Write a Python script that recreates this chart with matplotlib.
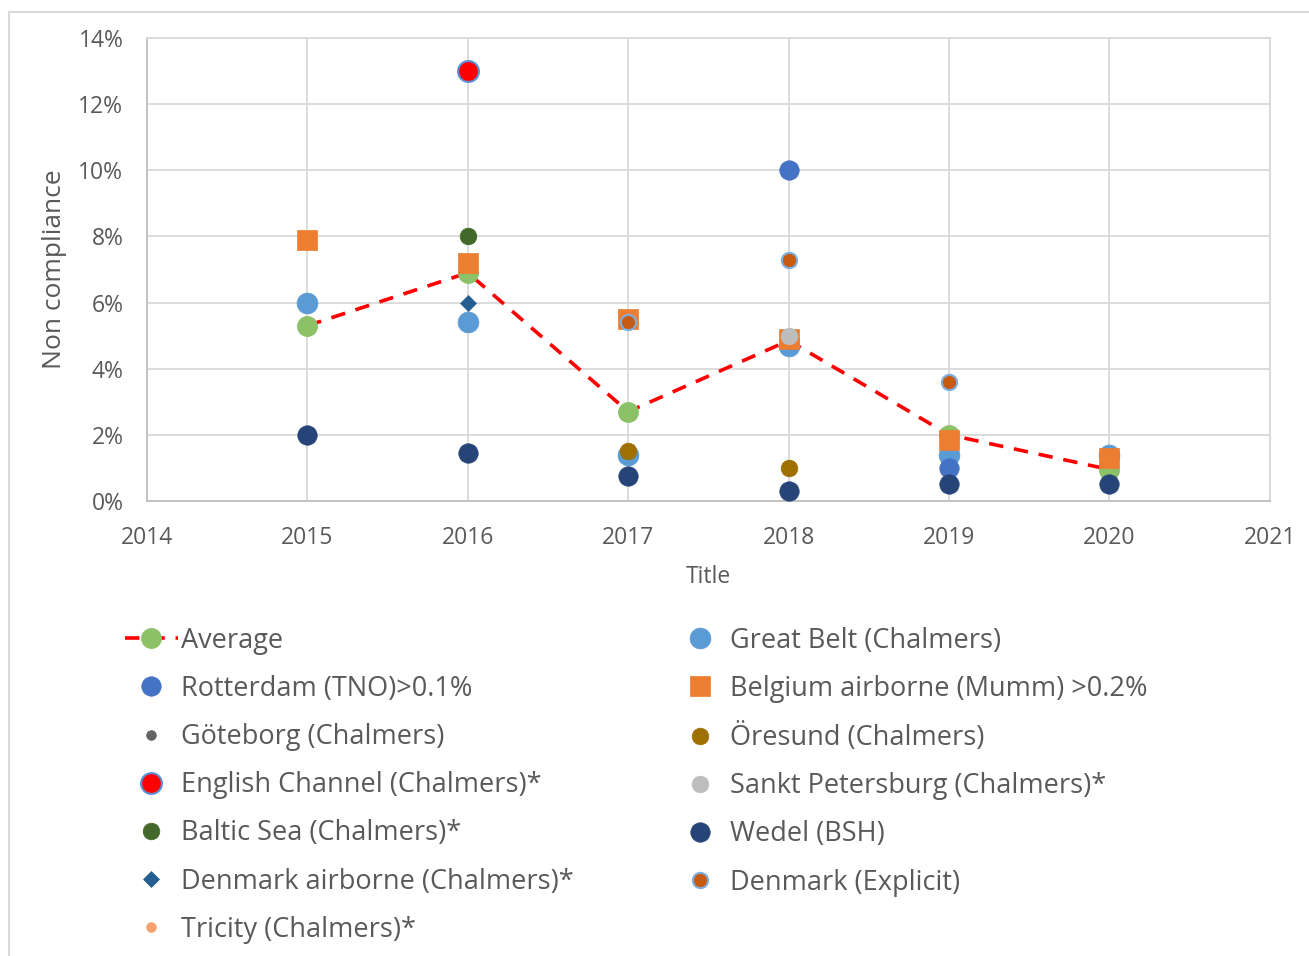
import matplotlib
matplotlib.use('Agg')
import matplotlib.pyplot as plt
from matplotlib.lines import Line2D
from matplotlib.ticker import PercentFormatter

plt.rcParams['font.family'] = ['Open Sans', 'DejaVu Sans']

# average line
avg_years = [2015, 2016, 2017, 2018, 2019, 2020]
avg_values = [5.3, 6.9, 2.7, 4.85, 2.0, 0.95]

# individual measurement series (years, values in %)
great_belt_years = [2015, 2016, 2017, 2018, 2019, 2020]
great_belt = [6.0, 5.4, 1.4, 4.7, 1.4, 1.4]
rotterdam_years = [2018, 2019]
rotterdam = [10.0, 1.0]
belgium_years = [2015, 2016, 2017, 2018, 2019, 2020]
belgium = [7.9, 7.2, 5.5, 4.9, 1.85, 1.3]
goteborg_years = []
goteborg = []
oresund_years = [2017, 2018]
oresund = [1.5, 1.0]
english_years = [2016]
english = [13.0]
sankt_years = [2018]
sankt = [5.0]
baltic_years = [2016]
baltic = [8.0]
wedel_years = [2015, 2016, 2017, 2018, 2019, 2020]
wedel = [2.0, 1.45, 0.75, 0.3, 0.5, 0.5]
dk_air_years = [2016]
dk_air = [6.0]
dk_explicit_years = [2017, 2018, 2019]
dk_explicit = [5.4, 7.3, 3.6]
tricity_years = []
tricity = []

text_col = '#595959'

fig = plt.figure(figsize=(13.09, 9.56), dpi=100)
ax = fig.add_axes([0.1123, 0.476, 0.8578, 0.4843])

# series: label, x, y, marker, size, face, edge
series = [
    ('Great Belt (Chalmers)', great_belt_years, great_belt, 'o', 15, '#5B9BD5', '#5B9BD5'),
    ('Rotterdam (TNO)>0.1%', rotterdam_years, rotterdam, 'o', 14, '#4472C4', '#4472C4'),
    ('Belgium airborne (Mumm) >0.2%', belgium_years, belgium, 's', 14, '#ED7D31', '#ED7D31'),
    ('Göteborg (Chalmers)', goteborg_years, goteborg, 'o', 7, '#636363', '#636363'),
    ('Öresund (Chalmers)', oresund_years, oresund, 'o', 12, '#9E7000', '#9E7000'),
    ('English Channel (Chalmers)*', english_years, english, 'o', 15, '#FF0000', '#5B8ED5'),
    ('Sankt Petersburg (Chalmers)*', sankt_years, sankt, 'o', 12, '#BDBDBD', '#BDBDBD'),
    ('Baltic Sea (Chalmers)*', baltic_years, baltic, 'o', 12, '#43682B', '#43682B'),
    ('Wedel (BSH)', wedel_years, wedel, 'o', 14, '#264478', '#264478'),
    ('Denmark airborne (Chalmers)*', dk_air_years, dk_air, 'D', 8, '#255E91', '#255E91'),
    ('Denmark (Explicit)', dk_explicit_years, dk_explicit, 'o', 11, '#C55A11', '#7FAEDD'),
    ('Tricity (Chalmers)*', tricity_years, tricity, 'o', 7, '#F4A16C', '#F4A16C'),
]

handles = {}
ax.plot(avg_years, avg_values, color='#FF0000', lw=2.6, ls=(0, (4, 3)), zorder=2)
ax.plot(avg_years, avg_values, ls='none', marker='o', ms=14,
        mfc='#8CC168', mec='#8CC168', zorder=3)
handles['Average'] = Line2D([], [], color='#FF0000', lw=2.6, ls=(0, (4, 3)),
                            marker='o', ms=14, mfc='#8CC168', mec='#8CC168')

order_z = {'Great Belt (Chalmers)': 3.5, 'Belgium airborne (Mumm) >0.2%': 4,
           'Denmark (Explicit)': 5, 'Sankt Petersburg (Chalmers)*': 5,
           'Rotterdam (TNO)>0.1%': 4.2, 'Wedel (BSH)': 4.5}
for label, xs, ys, mk, ms, fc, ec in series:
    z = order_z.get(label, 4.8)
    mew = 1.5 if ec != fc else 0.5
    ax.plot(xs, ys, ls='none', marker=mk, ms=ms, mfc=fc, mec=ec,
            mew=mew, zorder=z, label=label)
    handles[label] = Line2D([], [], ls='none', marker=mk, ms=ms, mfc=fc, mec=ec, mew=mew)

ax.set_xlim(2014, 2021)
ax.set_ylim(0, 14)
ax.set_xticks(range(2014, 2022))
ax.set_yticks(range(0, 15, 2))
ax.yaxis.set_major_formatter(PercentFormatter(decimals=0))
ax.grid(True, color='#D9D9D9', lw=1.3)
ax.set_axisbelow(True)
for s in ax.spines.values():
    s.set_color('#D9D9D9')
    s.set_linewidth(1.3)
ax.spines['bottom'].set_color('#BFBFBF')
ax.spines['left'].set_color('#BFBFBF')
ax.tick_params(length=0, labelsize=16.5, colors=text_col)
ax.tick_params(axis='x', pad=18)
ax.tick_params(axis='y', pad=17)
ax.set_xlabel('Title', fontsize=16.5, color=text_col, labelpad=11)
ax.set_ylabel('Non compliance', fontsize=19, color=text_col, labelpad=8)

col1 = ['Average', 'Rotterdam (TNO)>0.1%', 'Göteborg (Chalmers)',
        'English Channel (Chalmers)*', 'Baltic Sea (Chalmers)*',
        'Denmark airborne (Chalmers)*', 'Tricity (Chalmers)*']
col2 = ['Great Belt (Chalmers)', 'Belgium airborne (Mumm) >0.2%',
        'Öresund (Chalmers)', 'Sankt Petersburg (Chalmers)*', 'Wedel (BSH)',
        'Denmark (Explicit)']

leg_kw = dict(frameon=False, fontsize=19.5, labelcolor=text_col,
              handlelength=1.95, handletextpad=0.12, labelspacing=0.745,
              borderaxespad=0, borderpad=0)
fig.legend([handles[k] for k in col1], col1, loc='upper left',
           bbox_to_anchor=(0.0955, 0.3445), **leg_kw)
fig.legend([handles[k] for k in col2], col2, loc='upper left',
           bbox_to_anchor=(0.5145, 0.3445), **leg_kw)

# outer chart frame
fig.add_artist(Line2D([0.0065, 0.0065], [0.0, 0.9875], color='#D9D9D9', lw=1.5))
fig.add_artist(Line2D([0.0065, 1.0], [0.9875, 0.9875], color='#D9D9D9', lw=1.5))

fig.savefig('out.png', dpi=100)
